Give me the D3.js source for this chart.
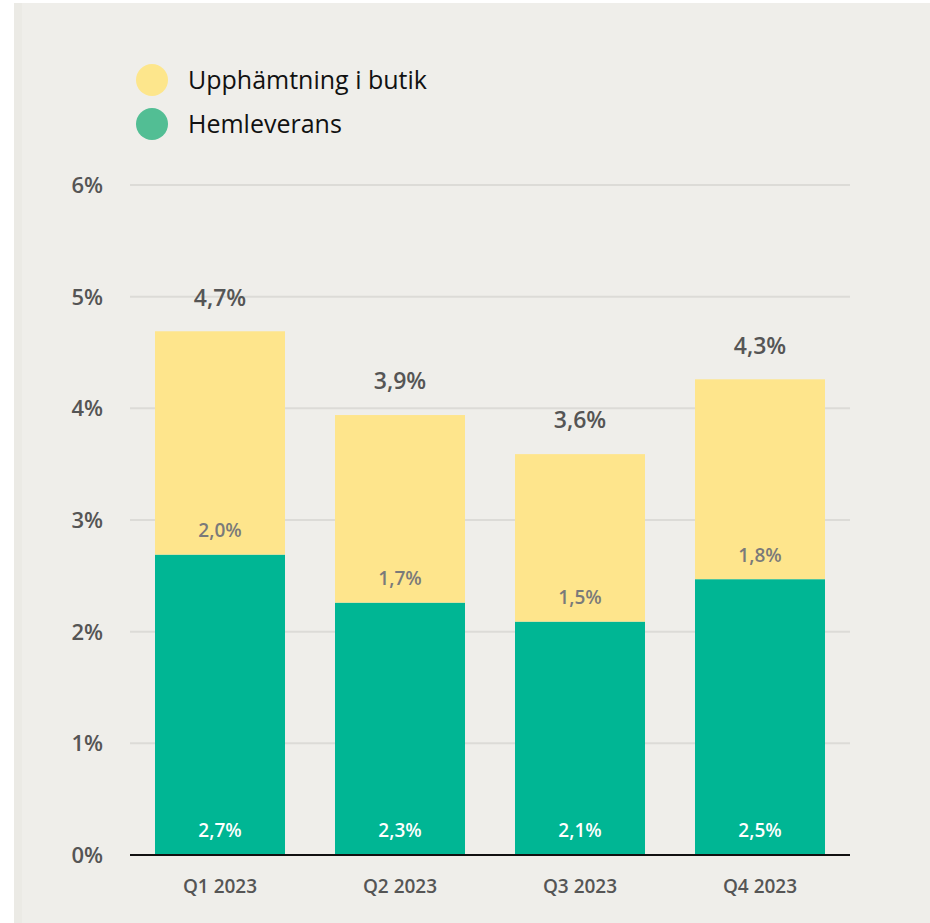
<!doctype html>
<html>
<head>
    <style>
        body { margin: 0; background: #ffffff; }
        svg text { font-family: "Open Sans", "Noto Sans", sans-serif; }
    </style>
    <script src="https://d3js.org/d3.v7.min.js"></script>
</head>
<body>
<svg width="930" height="923"></svg>
<script>

    // data
    var quarters = ["Q1 2023", "Q2 2023", "Q3 2023", "Q4 2023"];
    var hemleverans = [2.69, 2.26, 2.09, 2.47];
    var upphamtning = [2.00, 1.68, 1.50, 1.79];
    var yTicks = [0, 1, 2, 3, 4, 5, 6];
    var seriesNames = ["Upphämtning i butik", "Hemleverans"];

    var svg = d3.select("svg");
    var fmt = function(v) { return d3.format(".1f")(v).replace(".", ",") + "%"; };

    // panel background
    svg.append("rect")
       .attr("x", 14).attr("y", 3)
       .attr("width", 916).attr("height", 920)
       .attr("fill", "#efeeea");
    svg.append("rect")
       .attr("x", 14).attr("y", 3)
       .attr("width", 8).attr("height", 920)
       .attr("fill", "#ebeae5");

    var plotLeft = 130, plotRight = 850, plotTop = 185, plotBottom = 855;

    var x = d3.scaleBand()
        .domain(quarters)
        .range([plotLeft, plotRight])
        .paddingInner(50 / 180)
        .paddingOuter(25 / 180);
    var y = d3.scaleLinear().domain([0, 6]).range([plotBottom, plotTop]);

    // gridlines
    svg.append("g")
       .selectAll("line")
       .data(yTicks.filter(function(d) { return d > 0; }))
       .enter().append("line")
       .attr("x1", plotLeft).attr("x2", plotRight)
       .attr("y1", function(d) { return y(d); })
       .attr("y2", function(d) { return y(d); })
       .attr("stroke", "#dcdbd7")
       .attr("stroke-width", 2);

    // y tick labels
    svg.append("g")
       .selectAll("text")
       .data(yTicks)
       .enter().append("text")
       .attr("x", 103)
       .attr("y", function(d) { return y(d); })
       .attr("dy", "0.36em")
       .attr("text-anchor", "end")
       .attr("font-size", "22px")
       .attr("font-weight", 600)
       .attr("fill", "#555555")
       .text(function(d) { return d + "%"; });

    var rows = quarters.map(function(q, i) {
        return { q: q, g: hemleverans[i], u: upphamtning[i], t: hemleverans[i] + upphamtning[i] };
    });

    var bars = svg.append("g");

    // green (bottom)
    bars.selectAll(".green")
        .data(rows)
        .enter().append("rect")
        .attr("class", "green")
        .attr("x", function(d) { return x(d.q); })
        .attr("width", x.bandwidth())
        .attr("y", function(d) { return y(d.g); })
        .attr("height", function(d) { return y(0) - y(d.g); })
        .attr("fill", "#00b694");

    // yellow (top)
    bars.selectAll(".yellow")
        .data(rows)
        .enter().append("rect")
        .attr("class", "yellow")
        .attr("x", function(d) { return x(d.q); })
        .attr("width", x.bandwidth())
        .attr("y", function(d) { return y(d.t); })
        .attr("height", function(d) { return y(d.g) - y(d.t); })
        .attr("fill", "#fee58c");

    // value labels
    bars.selectAll(".gl")
        .data(rows)
        .enter().append("text")
        .attr("x", function(d) { return x(d.q) + x.bandwidth() / 2; })
        .attr("y", y(0) - 25)
        .attr("dy", "0.36em")
        .attr("text-anchor", "middle")
        .attr("font-size", "19px")
        .attr("font-weight", 600)
        .attr("fill", "#ffffff")
        .text(function(d) { return fmt(d.g); });

    bars.selectAll(".ul")
        .data(rows)
        .enter().append("text")
        .attr("x", function(d) { return x(d.q) + x.bandwidth() / 2; })
        .attr("y", function(d) { return y(d.g) - 24; })
        .attr("dy", "0.36em")
        .attr("text-anchor", "middle")
        .attr("font-size", "19px")
        .attr("font-weight", 600)
        .attr("fill", "#7a7a7a")
        .text(function(d) { return fmt(d.u); });

    bars.selectAll(".tl")
        .data(rows)
        .enter().append("text")
        .attr("x", function(d) { return x(d.q) + x.bandwidth() / 2; })
        .attr("y", function(d) { return y(d.t) - 34; })
        .attr("dy", "0.36em")
        .attr("text-anchor", "middle")
        .attr("font-size", "23px")
        .attr("font-weight", 600)
        .attr("fill", "#555555")
        .text(function(d) { return fmt(d.t); });

    // x axis
    svg.append("line")
       .attr("x1", plotLeft).attr("x2", plotRight)
       .attr("y1", plotBottom).attr("y2", plotBottom)
       .attr("stroke", "#111111")
       .attr("stroke-width", 2);

    svg.append("g")
       .selectAll("text")
       .data(quarters)
       .enter().append("text")
       .attr("x", function(d) { return x(d) + x.bandwidth() / 2; })
       .attr("y", 886)
       .attr("dy", "0.36em")
       .attr("text-anchor", "middle")
       .attr("font-size", "19px")
       .attr("font-weight", 600)
       .attr("fill", "#555555")
       .text(function(d) { return d; });

    // legend
    var legendColors = ["#fde68c", "#52be94"];
    var legend = svg.append("g")
        .selectAll("g")
        .data(seriesNames)
        .enter().append("g")
        .attr("transform", function(d, i) { return "translate(152," + (80 + i * 44) + ")"; });
    legend.append("circle")
        .attr("r", 16)
        .attr("fill", function(d, i) { return legendColors[i]; });
    legend.append("text")
        .attr("x", 36)
        .attr("dy", "0.36em")
        .attr("font-size", "25px")
        .attr("fill", "#111111")
        .text(function(d) { return d; });

</script>
</body>
</html>
